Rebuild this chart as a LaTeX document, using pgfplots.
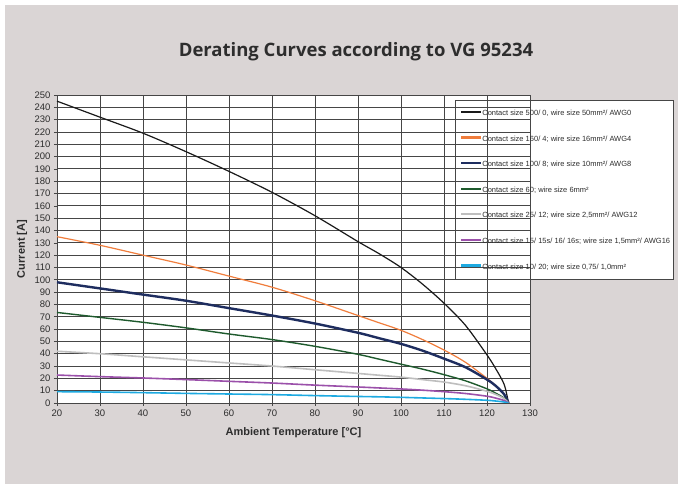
\documentclass[border=0pt]{standalone}
\usepackage{fontspec}
\setmainfont{Liberation Sans}
\newfontfamily\titlefont{Open Sans}
\usepackage{pgfplots}
\pgfplotsset{compat=1.18}
\definecolor{bggrey}{RGB}{218,213,213}
\definecolor{c1}{RGB}{26,26,26}
\definecolor{c2}{RGB}{240,125,60}
\definecolor{c3}{RGB}{30,45,95}
\definecolor{c4}{RGB}{30,90,45}
\definecolor{c5}{RGB}{190,190,190}
\definecolor{c6}{RGB}{155,80,170}
\definecolor{c7}{RGB}{30,170,225}
\definecolor{gridc}{RGB}{70,70,70}
\definecolor{txt}{RGB}{45,45,45}
\begin{document}
\begin{tikzpicture}[x=1pt,y=1pt]
\useasboundingbox (-57,-81) rectangle (621,403);
\fill[bggrey] (-52,-81) rectangle (621,398);
\fill[white] (0,0) rectangle (473,308);
\draw[gridc, line width=0.8pt, fill=white] (398,303) rectangle (616,124);
\node[anchor=base, font=\titlefont\bfseries\fontsize{18.5}{20}\selectfont, text=txt] at (299,346) {Derating Curves according to VG 95234};
\begin{axis}[
  at={(0,0)}, anchor=south west,
  scale only axis, width=473pt, height=308pt,
  xmin=20, xmax=130, ymin=0, ymax=250,
  xtick={20,30,...,130}, ytick={0,10,...,250},
  grid=major, major grid style={gridc, line width=0.9pt},
  axis line style={gridc, line width=0.9pt},
  tick align=outside, tick pos=left, major tick length=3pt,
  tick style={gridc, line width=0.6pt},
  ticklabel style={font=\fontsize{9.5}{10}\selectfont, text=txt},
  /pgf/number format/assume math mode=true,
  xlabel={Ambient Temperature [°C]}, ylabel={Current [A]},
  label style={font=\bfseries\fontsize{11}{12}\selectfont, text=txt},
  xlabel style={at={(axis description cs:0.5,-0.0974)}, anchor=center},
  ylabel style={at={(axis description cs:-0.074,0.5)}, anchor=center},
  legend style={at={(axis description cs:0.852,0.950)}, anchor=north west, fill=none, draw=none, inner sep=0pt, row sep=19.1pt, font=\fontsize{7.5}{8}\selectfont\color{txt}, nodes={inner sep=0pt, text height=5pt, text depth=1.5pt}},
  legend cell align=left,
  legend image code/.code={\path[#1, draw, line width=2.2pt] (0pt,2pt) -- (20pt,2pt);},
]
\addplot[c1, line width=1.2pt, smooth] coordinates {(20,245) (30,232) (40,219) (50,204) (60,188) (70,171) (80,152) (90,131) (95,121) (100,110) (105,96.5) (110,81) (115,63) (120,39) (122,28) (124,15) (125,0)};
\addlegendentry{Contact size 500/ 0, wire size 50mm²/ AWG0}
\addplot[c2, line width=1.2pt, smooth] coordinates {(20,135) (30,128) (40,120) (50,112) (60,103) (70,94) (80,83) (90,71) (95,65) (100,59) (105,51.5) (110,43) (115,33) (120,20) (122,14) (124,7) (125,0)};
\addlegendentry{Contact size 160/ 4; wire size 16mm²/ AWG4}
\addplot[c3, line width=2.4pt, smooth] coordinates {(20,98) (30,93) (40,88) (50,83) (60,77) (70,71) (80,64.5) (90,57) (95,52.5) (100,48) (105,42.5) (110,36) (115,29) (120,19) (122,14) (124,7) (125,0)};
\addlegendentry{Contact size 100/ 8; wire size 10mm²/ AWG8}
\addplot[c4, line width=1.4pt, smooth] coordinates {(20,73.5) (30,69.5) (40,65.5) (50,61) (60,56) (70,51.5) (80,46) (90,39.5) (95,35.5) (100,31.5) (105,27.5) (110,23) (115,18) (120,11.5) (122,8) (124,4) (125,0)};
\addlegendentry{Contact size 60; wire size 6mm²}
\addplot[c5, line width=1.6pt, smooth] coordinates {(20,42) (30,40) (40,37.5) (50,35) (60,32.5) (70,30) (80,27) (90,24) (95,22.5) (100,21) (105,19) (110,17) (115,14) (120,9.5) (122,7) (124,3.5) (125,0)};
\addlegendentry{Contact size 25/ 12; wire size 2,5mm²/ AWG12}
\addplot[c6, line width=1.6pt, smooth] coordinates {(20,22.7) (30,21.4) (40,20.3) (50,19) (60,17.6) (70,16.2) (80,14.5) (90,13) (95,12.2) (100,11.4) (105,10.4) (110,9.2) (115,7.7) (120,5.5) (122,4) (124,2) (125,0)};
\addlegendentry{Contact size 15/ 15s/ 16/ 16s; wire size 1,5mm²/ AWG16}
\addplot[c7, line width=1.6pt, smooth] coordinates {(20,9.2) (30,8.9) (40,8.4) (50,7.8) (60,7.3) (70,6.8) (80,6.0) (90,5.3) (95,5.0) (100,4.6) (105,4.1) (110,3.6) (115,3) (120,2.2) (122,1.6) (124,0.8) (125,0)};
\addlegendentry{Contact size 10/ 20; wire size 0,75/ 1,0mm²}
\end{axis}
\end{tikzpicture}
\end{document}
